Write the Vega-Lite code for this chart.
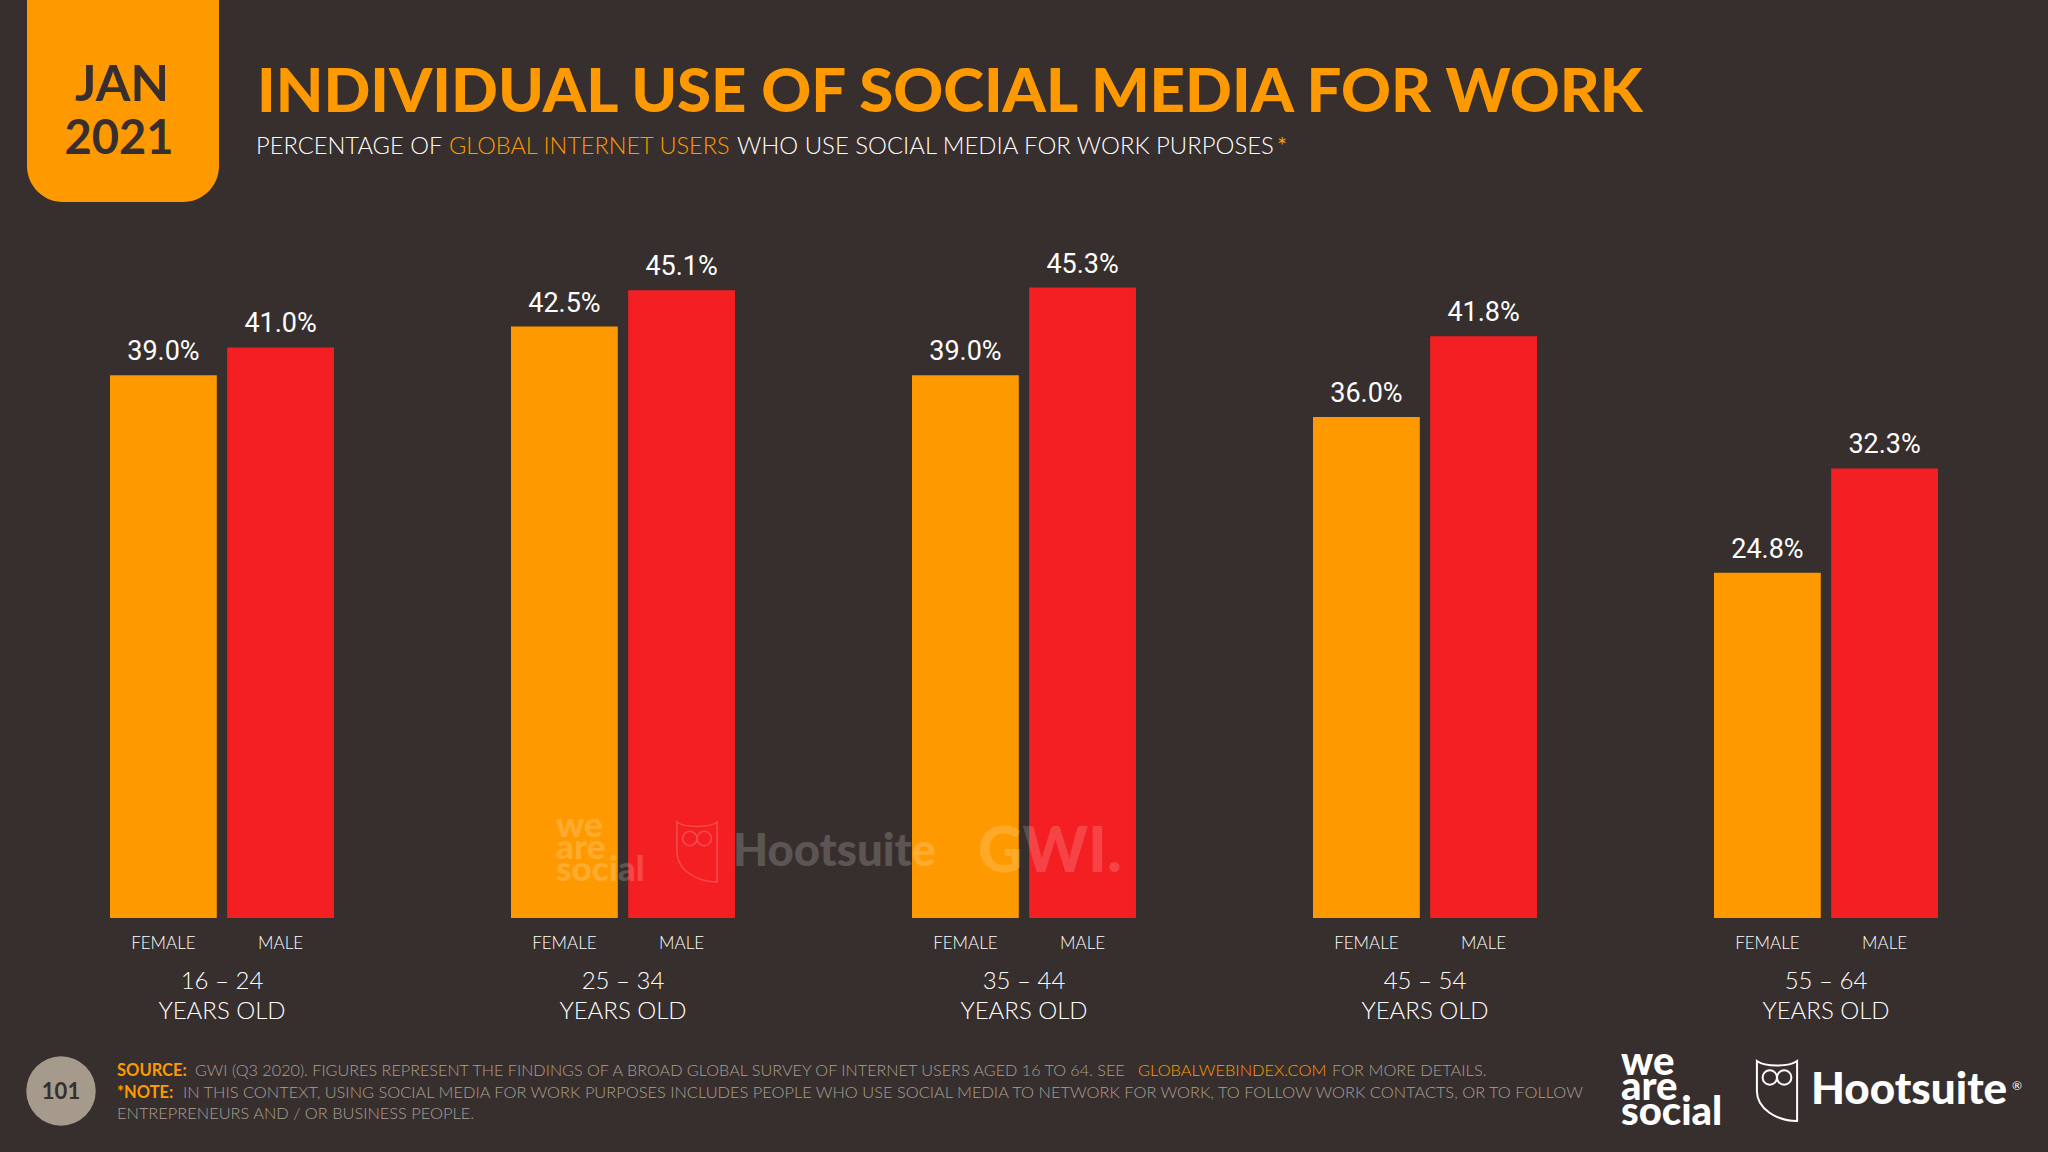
{
  "$schema": "https://vega.github.io/schema/vega-lite/v6.json",
  "width": 2048,
  "height": 918,
  "autosize": "none",
  "padding": {"left": 0, "top": 0, "right": 0, "bottom": 234},
  "background": "#372f2d",
  "title": {
    "text": "INDIVIDUAL USE OF SOCIAL MEDIA FOR WORK",
    "anchor": "start",
    "frame": "group",
    "orient": "top",
    "baseline": "alphabetic",
    "offset": 0,
    "dx": 257,
    "dy": 174,
    "font": "Lato",
    "fontWeight": 900,
    "fontSize": 61.7,
    "color": "#ff9900"
  },
  "data": {
    "values": [
      {"age": "16 – 24", "sex": "FEMALE", "share": 0.39},
      {"age": "16 – 24", "sex": "MALE", "share": 0.41},
      {"age": "25 – 34", "sex": "FEMALE", "share": 0.425},
      {"age": "25 – 34", "sex": "MALE", "share": 0.451},
      {"age": "35 – 44", "sex": "FEMALE", "share": 0.39},
      {"age": "35 – 44", "sex": "MALE", "share": 0.453},
      {"age": "45 – 54", "sex": "FEMALE", "share": 0.36},
      {"age": "45 – 54", "sex": "MALE", "share": 0.418},
      {"age": "55 – 64", "sex": "FEMALE", "share": 0.248},
      {"age": "55 – 64", "sex": "MALE", "share": 0.323}
    ]
  },
  "layer": [
    {
      "encoding": {
        "x": {
          "field": "age",
          "type": "nominal",
          "title": null,
          "scale": {"range": [21.5, 2026.5], "paddingInner": 0.4414, "paddingOuter": 0.2207},
          "axis": {
            "domain": false,
            "ticks": false,
            "labelAngle": 0,
            "labelExpr": "[datum.label, 'YEARS OLD']",
            "labelFont": "Lato",
            "labelFontWeight": 300,
            "labelFontSize": 24,
            "labelColor": "#ffffff",
            "labelLineHeight": 30,
            "labelPadding": 51
          }
        },
        "xOffset": {"field": "sex", "type": "nominal", "scale": {"paddingInner": 0.0886}},
        "color": {"field": "sex", "type": "nominal", "legend": null, "scale": {"domain": ["FEMALE", "MALE"], "range": ["#ff9900", "#f41f22"]}}
      },
      "layer": [
        {
          "mark": {"type": "bar"},
          "encoding": {
            "y": {"field": "share", "type": "quantitative", "axis": null, "scale": {"domain": [0, 0.48], "nice": false, "range": [918, 250]}}
          }
        },
        {
          "mark": {"type": "text", "dy": -15, "baseline": "alphabetic", "font": "Roboto", "fontSize": 27, "color": "#ffffff"},
          "encoding": {
            "y": {"field": "share", "type": "quantitative"},
            "text": {"field": "share", "type": "quantitative", "format": ".1%"},
            "color": {"value": "#ffffff"}
          }
        },
        {
          "mark": {"type": "text", "dy": 31, "baseline": "alphabetic", "font": "Lato", "fontWeight": 300, "fontSize": 17},
          "encoding": {
            "y": {"datum": 0, "type": "quantitative"},
            "text": {"field": "sex"},
            "color": {"value": "#ffffff"}
          }
        }
      ]
    },
    {
      "data": {"values": [{"t": "badge"}]},
      "mark": {"type": "rect", "x": 27, "x2": 219, "y": 0, "y2": 202, "color": "#ff9900", "cornerRadiusBottomLeft": 36, "cornerRadiusBottomRight": 36}
    },
    {
      "data": {"values": [{"t": "JAN"}]},
      "mark": {"type": "text", "x": 122, "y": 101, "align": "center", "baseline": "alphabetic", "font": "Lato", "fontWeight": 700, "fontSize": 50, "color": "#372f2d"},
      "encoding": {"text": {"field": "t"}}
    },
    {
      "data": {"values": [{"t": "2021"}]},
      "mark": {"type": "text", "x": 119, "y": 154, "align": "center", "baseline": "alphabetic", "font": "Lato", "fontWeight": 700, "fontSize": 47, "color": "#372f2d"},
      "encoding": {"text": {"field": "t"}}
    },
    {
      "data": {"values": [{"t": "PERCENTAGE OF"}]},
      "mark": {"type": "text", "x": 256, "y": 154, "align": "left", "baseline": "alphabetic", "font": "Lato", "fontWeight": 300, "fontSize": 23.7, "color": "#ffffff"},
      "encoding": {"text": {"field": "t"}}
    },
    {
      "data": {"values": [{"t": "GLOBAL INTERNET USERS"}]},
      "mark": {"type": "text", "x": 449, "y": 154, "align": "left", "baseline": "alphabetic", "font": "Lato", "fontWeight": 300, "fontSize": 23.5, "color": "#ff9900"},
      "encoding": {"text": {"field": "t"}}
    },
    {
      "data": {"values": [{"t": "WHO USE SOCIAL MEDIA FOR WORK PURPOSES"}]},
      "mark": {"type": "text", "x": 737, "y": 154, "align": "left", "baseline": "alphabetic", "font": "Lato", "fontWeight": 300, "fontSize": 23.9, "color": "#ffffff"},
      "encoding": {"text": {"field": "t"}}
    },
    {
      "data": {"values": [{"t": "*"}]},
      "mark": {"type": "text", "x": 1277, "y": 154, "align": "left", "baseline": "alphabetic", "font": "Lato", "fontWeight": 400, "fontSize": 24, "color": "#ff9900"},
      "encoding": {"text": {"field": "t"}}
    },
    {
      "data": {"values": [{"t": "page"}]},
      "mark": {"type": "point", "x": 61, "y": 1091, "shape": "circle", "size": 4830, "filled": true, "opacity": 1, "color": "#a59a8c"}
    },
    {
      "data": {"values": [{"t": "101"}]},
      "mark": {"type": "text", "x": 61, "y": 1099, "align": "center", "baseline": "alphabetic", "font": "Lato", "fontWeight": 700, "fontSize": 22, "color": "#372f2d"},
      "encoding": {"text": {"field": "t"}}
    },
    {
      "data": {"values": [{"t": "SOURCE:"}]},
      "mark": {"type": "text", "x": 117, "y": 1076, "align": "left", "baseline": "alphabetic", "font": "Lato", "fontWeight": 700, "fontSize": 16.5, "color": "#ff9900"},
      "encoding": {"text": {"field": "t"}}
    },
    {
      "data": {"values": [{"t": "GWI (Q3 2020). FIGURES REPRESENT THE FINDINGS OF A BROAD GLOBAL SURVEY OF INTERNET USERS AGED 16 TO 64. SEE"}]},
      "mark": {"type": "text", "x": 195, "y": 1076, "align": "left", "baseline": "alphabetic", "font": "Lato", "fontWeight": 300, "fontSize": 16.2, "color": "#a89f94"},
      "encoding": {"text": {"field": "t"}}
    },
    {
      "data": {"values": [{"t": "GLOBALWEBINDEX.COM"}]},
      "mark": {"type": "text", "x": 1138, "y": 1076, "align": "left", "baseline": "alphabetic", "font": "Lato", "fontWeight": 300, "fontSize": 16.4, "color": "#ff9900"},
      "encoding": {"text": {"field": "t"}}
    },
    {
      "data": {"values": [{"t": "FOR MORE DETAILS."}]},
      "mark": {"type": "text", "x": 1332, "y": 1076, "align": "left", "baseline": "alphabetic", "font": "Lato", "fontWeight": 300, "fontSize": 16.4, "color": "#a89f94"},
      "encoding": {"text": {"field": "t"}}
    },
    {
      "data": {"values": [{"t": "*NOTE:"}]},
      "mark": {"type": "text", "x": 117, "y": 1098, "align": "left", "baseline": "alphabetic", "font": "Lato", "fontWeight": 700, "fontSize": 16.5, "color": "#ff9900"},
      "encoding": {"text": {"field": "t"}}
    },
    {
      "data": {"values": [{"t": "IN THIS CONTEXT, USING SOCIAL MEDIA FOR WORK PURPOSES INCLUDES PEOPLE WHO USE SOCIAL MEDIA TO NETWORK FOR WORK, TO FOLLOW WORK CONTACTS, OR TO FOLLOW"}]},
      "mark": {"type": "text", "x": 183, "y": 1098, "align": "left", "baseline": "alphabetic", "font": "Lato", "fontWeight": 300, "fontSize": 16.4, "color": "#a89f94"},
      "encoding": {"text": {"field": "t"}}
    },
    {
      "data": {"values": [{"t": "ENTREPRENEURS AND / OR BUSINESS PEOPLE."}]},
      "mark": {"type": "text", "x": 117, "y": 1119, "align": "left", "baseline": "alphabetic", "font": "Lato", "fontWeight": 300, "fontSize": 16.4, "color": "#a89f94"},
      "encoding": {"text": {"field": "t"}}
    },
    {
      "data": {"values": [{"t": ["we", "are", "social"]}]},
      "mark": {"type": "text", "x": 1621, "y": 1075, "align": "left", "baseline": "alphabetic", "font": "Lato", "fontWeight": 900, "fontSize": 40, "lineHeight": 25, "color": "#ffffff"},
      "encoding": {"text": {"field": "t"}}
    },
    {
      "data": {"values": [{"t": "shield"}]},
      "mark": {"type": "point", "x": 1777, "y": 1091, "size": 3600, "filled": false, "opacity": 1, "color": "#ffffff", "strokeWidth": 2, "shape": "M-0.67,-1 C-0.4,-0.8 0.4,-0.8 0.67,-1 L0.67,1 C0,1 -0.67,0.6 -0.67,0 Z M-0.48,-0.45 A0.24,0.24 0 1 1 0,-0.45 A0.24,0.24 0 1 1 -0.48,-0.45 Z M0,-0.45 A0.24,0.24 0 1 1 0.48,-0.45 A0.24,0.24 0 1 1 0,-0.45 Z"}
    },
    {
      "data": {"values": [{"t": "Hootsuite"}]},
      "mark": {"type": "text", "x": 1811, "y": 1104, "align": "left", "baseline": "alphabetic", "font": "Lato", "fontWeight": 900, "fontSize": 44, "color": "#ffffff"},
      "encoding": {"text": {"field": "t"}}
    },
    {
      "data": {"values": [{"t": "®"}]},
      "mark": {"type": "text", "x": 2012, "y": 1090, "align": "left", "baseline": "alphabetic", "font": "Lato", "fontSize": 12, "color": "#ffffff"},
      "encoding": {"text": {"field": "t"}}
    },
    {
      "data": {"values": [{"t": ["we", "are", "social"]}]},
      "mark": {"type": "text", "x": 556, "y": 837, "align": "left", "baseline": "alphabetic", "font": "Lato", "fontWeight": 900, "fontSize": 35, "lineHeight": 22, "color": "#ffffff", "opacity": 0.18},
      "encoding": {"text": {"field": "t"}}
    },
    {
      "data": {"values": [{"t": "shield"}]},
      "mark": {"type": "point", "x": 697, "y": 852, "size": 3600, "filled": false, "color": "#ffffff", "opacity": 0.2, "strokeWidth": 1.5, "shape": "M-0.67,-1 C-0.4,-0.8 0.4,-0.8 0.67,-1 L0.67,1 C0,1 -0.67,0.6 -0.67,0 Z M-0.48,-0.45 A0.24,0.24 0 1 1 0,-0.45 A0.24,0.24 0 1 1 -0.48,-0.45 Z M0,-0.45 A0.24,0.24 0 1 1 0.48,-0.45 A0.24,0.24 0 1 1 0,-0.45 Z"}
    },
    {
      "data": {"values": [{"t": "Hootsuite"}]},
      "mark": {"type": "text", "x": 733, "y": 866, "align": "left", "baseline": "alphabetic", "font": "Lato", "fontWeight": 900, "fontSize": 45.5, "color": "#ffffff", "opacity": 0.18},
      "encoding": {"text": {"field": "t"}}
    },
    {
      "data": {"values": [{"t": "GWI."}]},
      "mark": {"type": "text", "x": 978, "y": 872, "align": "left", "baseline": "alphabetic", "font": "Lato", "fontWeight": 900, "fontSize": 62, "color": "#ffffff", "opacity": 0.16},
      "encoding": {"text": {"field": "t"}}
    }
  ],
  "config": {"view": {"stroke": null}}
}
